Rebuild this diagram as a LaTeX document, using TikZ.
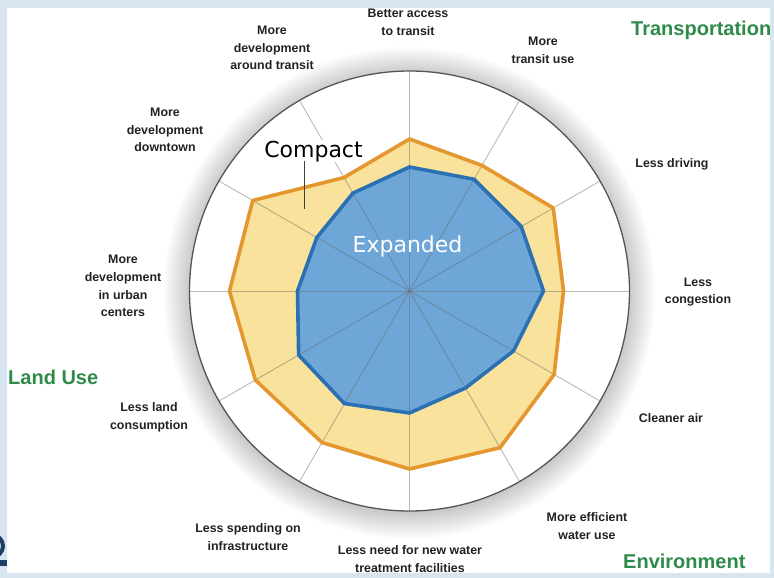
\documentclass[tikz,border=0pt]{standalone}
\usepackage{fontspec}
\setmainfont{Liberation Sans}
\newfontfamily\djv{DejaVu Sans}
\usetikzlibrary{calc}
\definecolor{bgblue}{HTML}{D8E5F1}
\definecolor{logoblue}{HTML}{1E3E64}
\definecolor{yellowfill}{HTML}{F9E29C}
\definecolor{orangeline}{HTML}{E4972E}
\definecolor{bluefill}{HTML}{6EA7D7}
\definecolor{blueline}{HTML}{2A70B2}
\definecolor{hdrgreen}{HTML}{2E8B49}
\definecolor{labgray}{HTML}{222222}
\definecolor{rimgray}{HTML}{555555}
\tikzset{
  lab/.style={font=\bfseries\fontsize{12.4}{17.6}\selectfont, align=center, text=labgray, inner sep=0pt},
  hdr/.style={font=\bfseries\fontsize{20}{24}\selectfont, text=hdrgreen, inner sep=0pt},
  spoke/.style={draw=black!60, opacity=0.45, line width=0.9pt},
  compactpoly/.style={fill=yellowfill},
  expandedpoly/.style={fill=bluefill},
  compactline/.style={draw=orangeline, line width=3.6pt, line join=round},
  expandedline/.style={draw=blueline, line width=3.6pt, line join=round},
}
\begin{document}
\begin{tikzpicture}[x=1pt,y=-1pt]
\path[use as bounding box] (0,0) rectangle (774,578);
\fill[bgblue] (0,0) rectangle (774,578);
\fill[white] (7,8) rectangle (770,573);
\coordinate (c) at (409.5,291);
% soft shadow around the dial
\foreach \i in {1,...,18} \fill[black,opacity=0.011] ($(c)+(0,2)$) circle ({219pt+\i*1.5pt});
\fill[white] (c) circle (220pt);
\begin{scope}[shift={(c)}]
  % Compact polygon
  \fill[compactpoly] (90:152pt) -- (60:145pt) -- (30:166pt) -- (0:154pt) -- (-30:167pt) -- (-60:181pt) -- (-90:178pt) -- (-120:175pt) -- (-150:178pt) -- (180:180pt) -- (150:181pt) -- (120:131pt) -- cycle;
  % Expanded polygon
  \fill[expandedpoly] (90:124pt) -- (60:129pt) -- (30:129pt) -- (0:134pt) -- (-30:120pt) -- (-60:112pt) -- (-90:122pt) -- (-120:130pt) -- (-150:128pt) -- (180:112pt) -- (150:107pt) -- (120:113pt) -- cycle;
  % spokes
  \foreach \a in {0,30,...,330} \draw[spoke] (0,0) -- (\a:220pt);
  \draw[compactline] (90:152pt) -- (60:145pt) -- (30:166pt) -- (0:154pt) -- (-30:167pt) -- (-60:181pt) -- (-90:178pt) -- (-120:175pt) -- (-150:178pt) -- (180:180pt) -- (150:181pt) -- (120:131pt) -- cycle;
  \draw[expandedline] (90:124pt) -- (60:129pt) -- (30:129pt) -- (0:134pt) -- (-30:120pt) -- (-60:112pt) -- (-90:122pt) -- (-120:130pt) -- (-150:128pt) -- (180:112pt) -- (150:107pt) -- (120:113pt) -- cycle;
\end{scope}
\draw[rimgray, line width=1.3pt] (c) circle (220pt);
% series labels
\node[fill=white, inner sep=0.5pt, font=\djv\fontsize{22}{26}\selectfont, anchor=base] (compact) at (313.5,157) {Compact};
\coordinate (lead) at (304,209);
\draw[black!75, line width=0.9pt] (304,161) -- (lead);
\node[font=\djv\fontsize{22}{26}\selectfont, text=white, anchor=base, inner sep=0pt] (expanded) at (407.5,252) {Expanded};
% axis labels
\node[lab] (l1) at (408,22) {Better access\\to transit};
\node[lab] (l2) at (543,50) {More\\transit use};
\node[lab] (l3) at (672,164) {Less driving};
\node[lab] (l4) at (698,292) {Less\\congestion};
\node[lab] (l5) at (671,418) {Cleaner air};
\node[lab] (l6) at (587,526) {More efficient\\water use};
\node[lab] (l7) at (410,559) {Less need for new water\\treatment facilities};
\node[lab] (l8) at (248,537) {Less spending on\\infrastructure};
\node[lab] (l9) at (149,417) {Less land\\consumption};
\node[lab] (l10) at (123,286) {More\\development\\in urban\\centers};
\node[lab] (l11) at (165,130) {More\\development\\downtown};
\node[lab] (l12) at (272,48) {More\\development\\around transit};
% category headers
\node[hdr, anchor=base west] (h1) at (631,36) {Transportation};
\node[hdr, anchor=base west] (h2) at (8,384) {Land Use};
\node[hdr, anchor=base west] (h3) at (623,568) {Environment};
% outer frame
\fill[bgblue, even odd rule] (0,0) rectangle (774,578) (7,8) rectangle (770,573);
\begin{scope}
  \clip (0,500) rectangle (7,578);
  \draw[logoblue, line width=4pt] (-8,546) circle (11pt);
  \fill[logoblue] (0,560) rectangle (7,566);
\end{scope}
\end{tikzpicture}
\end{document}
